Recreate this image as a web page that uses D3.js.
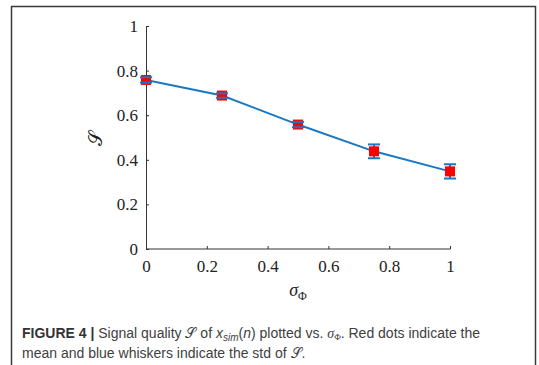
<!DOCTYPE html>
<html>
<head>
<meta charset="utf-8">
<script src="https://cdn.jsdelivr.net/npm/d3@7"></script>
<style>
  body { margin: 0; background: #fff; }
</style>
</head>
<body>
<div id="chart"></div>
<script>
// data
var sigmaPhi = [0, 0.25, 0.5, 0.75, 1]
var meanS = [0.758, 0.688, 0.558, 0.438, 0.348]
var stdS = [0.012, 0.010, 0.012, 0.031, 0.032]
var xTicks = [0, 0.2, 0.4, 0.6, 0.8, 1]
var yTicks = [0, 0.2, 0.4, 0.6, 0.8, 1]

var width = 539
var height = 365
var margin = { top: 26, left: 146, right: 89, bottom: 116 }

var svg = d3.select("#chart")
  .append("svg")
  .attr("width", width)
  .attr("height", height)

//outer frame of the figure
svg.append("rect")
  .attr("x", 11.5)
  .attr("y", 6.5)
  .attr("width", 524)
  .attr("height", 380)
  .attr("fill", "none")
  .attr("stroke", "#3a3a3a")
  .attr("stroke-width", 1.5)

var plotW = width - margin.left - margin.right
var plotH = height - margin.top - margin.bottom

var g = svg.append("g")
  .attr("transform", "translate(" + margin.left + "," + margin.top + ")")

var x = d3.scaleLinear().domain([0, 1]).range([0, plotW])
var y = d3.scaleLinear().domain([0, 1]).range([plotH, 0])

//axes, ticks point inward like matlab
var fmt = function (d) { return String(+d.toFixed(1)) }
var xAxis = d3.axisBottom(x).tickValues(xTicks).tickSize(-3).tickPadding(11).tickFormat(fmt)
var yAxis = d3.axisLeft(y).tickValues(yTicks).tickSize(-3).tickPadding(8).tickFormat(fmt)

var gx = g.append("g")
  .attr("transform", "translate(0," + plotH + ")")
  .call(xAxis)
var gy = g.append("g").call(yAxis)

;[gx, gy].forEach(function (a) {
  a.attr("font-family", "Liberation Serif").attr("font-size", 17)
  a.select(".domain").attr("stroke", "#333")
  a.selectAll(".tick line").attr("stroke", "#333")
  a.selectAll(".tick text")
    .attr("fill", "#222")
    .style("font-family", "'Liberation Serif', 'Times New Roman', serif")
    .style("font-size", "17px")
})
gx.select(".domain").attr("d", "M0.5,0H" + (plotW + 0.5))
gy.select(".domain").attr("d", "M0.5,0V" + (plotH + 0.5))

//line through means
var line = d3.line()
  .x(function (d, i) { return x(sigmaPhi[i]) })
  .y(function (d) { return y(d) })

g.append("path")
  .datum(meanS)
  .attr("fill", "none")
  .attr("stroke", "#1a78c2")
  .attr("stroke-width", 2)
  .attr("d", line)

//whiskers
var capW = 6
var pts = g.selectAll(".pt").data(meanS).enter().append("g").attr("class", "pt")

pts.append("line")
  .attr("x1", function (d, i) { return x(sigmaPhi[i]) })
  .attr("x2", function (d, i) { return x(sigmaPhi[i]) })
  .attr("y1", function (d, i) { return y(d - stdS[i]) })
  .attr("y2", function (d, i) { return y(d + stdS[i]) })
  .attr("stroke", "#1a78c2").attr("stroke-width", 2)

//red squares for the mean
pts.append("rect")
  .attr("x", function (d, i) { return x(sigmaPhi[i]) - 5 })
  .attr("y", function (d) { return y(d) - 5 })
  .attr("width", 10)
  .attr("height", 10)
  .attr("fill", "#ff0000")

;[-1, 1].forEach(function (s) {
  pts.append("line")
    .attr("x1", function (d, i) { return x(sigmaPhi[i]) - capW })
    .attr("x2", function (d, i) { return x(sigmaPhi[i]) + capW })
    .attr("y1", function (d, i) { return y(d + s * stdS[i]) })
    .attr("y2", function (d, i) { return y(d + s * stdS[i]) })
    .attr("stroke", "#1a78c2").attr("stroke-width", 2)
})

//axis labels
svg.append("text")
  .attr("transform", "translate(102,138) rotate(-90)")
  .attr("text-anchor", "middle")
  .style("font-family", "'DejaVu Serif', serif")
  .style("font-size", "19px")
  .attr("fill", "#222")
  .text("𝒮")

var xl = svg.append("text")
  .attr("x", 298)
  .attr("y", 296)
  .attr("text-anchor", "middle")
  .style("font-family", "'Liberation Serif', serif")
  .style("font-size", "18px")
  .attr("fill", "#222")
xl.append("tspan").style("font-style", "italic").text("σ")
xl.append("tspan").attr("dy", 4).style("font-size", "12px").text("Φ")

//caption
var cap = svg.append("g")
  .style("font-family", "'Liberation Sans', Arial, sans-serif")
  .style("font-size", "14px")
  .attr("fill", "#404040")

var c1 = cap.append("text").attr("x", 22).attr("y", 338)
c1.append("tspan").style("font-weight", "bold").attr("fill", "#333").text("FIGURE 4")
c1.append("tspan").attr("fill", "#333").style("font-weight", "bold").text(" | ")
c1.append("tspan").text("Signal quality ")
c1.append("tspan").style("font-family", "'DejaVu Serif', serif").text("𝒮")
c1.append("tspan").text(" of ")
c1.append("tspan").style("font-style", "italic").text("x")
c1.append("tspan").style("font-style", "italic").style("font-size", "10px").attr("dy", 3).text("sim")
c1.append("tspan").attr("dy", -3).text("(")
c1.append("tspan").style("font-style", "italic").text("n")
c1.append("tspan").text(") plotted vs. ")
c1.append("tspan").style("font-family", "'Liberation Serif', serif").style("font-style", "italic").text("σ")
c1.append("tspan").style("font-family", "'Liberation Serif', serif").style("font-size", "9px").attr("dy", 2).text("Φ")
c1.append("tspan").attr("dy", -2).text(". Red dots indicate the")

var c2 = cap.append("text").attr("x", 22).attr("y", 358)
c2.append("tspan").text("mean and blue whiskers indicate the std of ")
c2.append("tspan").style("font-family", "'DejaVu Serif', serif").text("𝒮")
c2.append("tspan").text(".")
</script>
</body>
</html>
